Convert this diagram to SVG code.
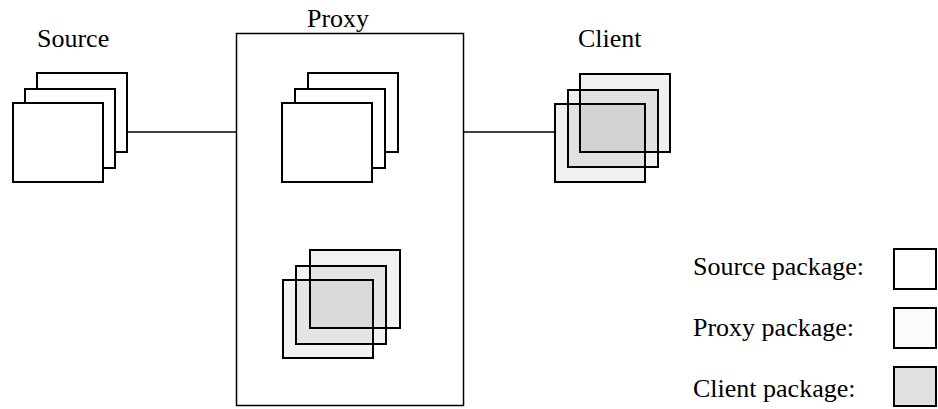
<svg xmlns="http://www.w3.org/2000/svg" width="938" height="409" viewBox="0 0 938 409">
<style>
text{font-family:"Liberation Serif","Times New Roman",serif;font-size:26px;fill:#000}
.src{fill:#fff;stroke:#000;stroke-width:2}
.prx{fill:#000;fill-opacity:0.05;stroke:#000;stroke-width:2}
.cli{fill:#000;fill-opacity:0.06;stroke:#000;stroke-width:2}
.box{fill:#fff;stroke:#000;stroke-width:1.5}
.conn{stroke:#000;stroke-width:1.5;fill:none}
</style>
<rect width="938" height="409" fill="#fff"/>
<g id="proxy">
<rect class="box" x="236.5" y="33.5" width="227" height="372"/>
<text x="307" y="27">Proxy</text>
</g>
<g id="connectors">
<line class="conn" x1="124" y1="132" x2="236" y2="132"/>
<line class="conn" x1="463" y1="132" x2="555" y2="132"/>
</g>
<g id="source">
<text x="37" y="47">Source</text>
<rect class="src" x="37" y="73" width="90" height="79"/>
<rect class="src" x="25" y="89" width="90" height="79"/>
<rect class="src" x="13" y="103" width="90" height="79"/>
</g>
<g id="proxy-source-stack">
<rect class="src" x="308" y="73" width="90" height="79"/>
<rect class="src" x="295" y="89" width="90" height="79"/>
<rect class="src" x="282" y="103" width="90" height="79"/>
</g>
<g id="proxy-package-stack">
<rect class="prx" x="310" y="250" width="90" height="78"/>
<rect class="prx" x="296" y="266" width="90" height="78"/>
<rect class="prx" x="283" y="280" width="90" height="78"/>
</g>
<g id="client">
<text x="578" y="47">Client</text>
<rect class="cli" x="580" y="74" width="90" height="78"/>
<rect class="cli" x="568" y="90" width="90" height="77"/>
<rect class="cli" x="555" y="104" width="90" height="78"/>
</g>
<g id="legend">
<text x="693" y="275">Source package:</text>
<rect class="src" x="894" y="249" width="42" height="40"/>
<text x="693" y="336">Proxy package:</text>
<rect class="src" x="894" y="308" width="42" height="40" style="fill:#fcfcfc"/>
<text x="693" y="397">Client package:</text>
<rect class="cli" x="894" y="367" width="42" height="39" style="fill-opacity:0.12"/>
</g>
</svg>
